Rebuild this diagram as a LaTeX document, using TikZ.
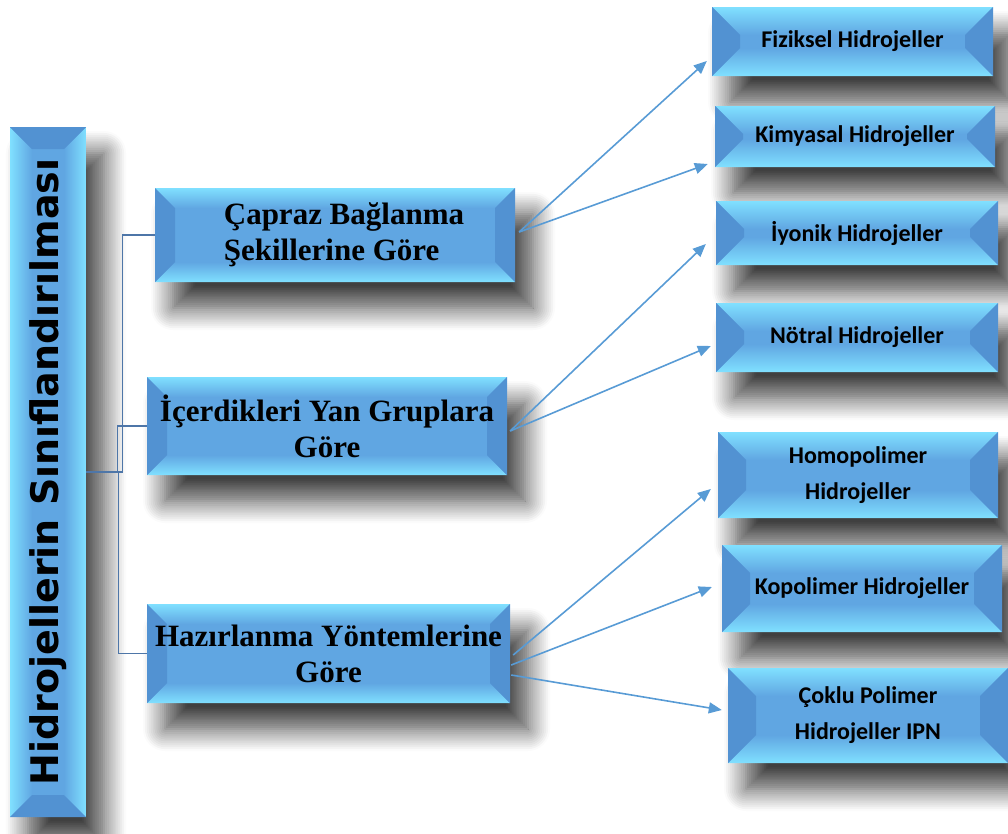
\documentclass[tikz,border=0pt]{standalone}
\usepackage{fontspec}
\usepackage{graphicx}
\usepackage{tikz}
\usetikzlibrary{arrows.meta,positioning,calc,shadows.blur}
\newfontfamily\rootfont{DejaVu Sans}
\newfontfamily\groupfont{Liberation Serif}
\newfontfamily\leaffont{Carlito}
\definecolor{boxface}{RGB}{96,166,226}
\definecolor{boxside}{RGB}{82,146,210}
\definecolor{boxedge}{RGB}{128,224,255}
\definecolor{treecol}{RGB}{78,118,168}
\definecolor{linkcol}{RGB}{88,155,213}
\tikzset{
  bevelh/.style={fill=boxface,path picture={
      \coordinate (pnw) at (path picture bounding box.north west);
      \coordinate (pne) at (path picture bounding box.north east);
      \coordinate (psw) at (path picture bounding box.south west);
      \coordinate (pse) at (path picture bounding box.south east);
      \shade[top color=boxedge,bottom color=boxface] (pnw) -- (pne)
        -- ([shift={(-#1pt,-#1pt)}]pne) -- ([shift={(#1pt,-#1pt)}]pnw) -- cycle;
      \shade[top color=boxface,bottom color=boxedge] (psw) -- (pse)
        -- ([shift={(-#1pt,#1pt)}]pse) -- ([shift={(#1pt,#1pt)}]psw) -- cycle;
      \fill[boxside] (pnw) -- ([shift={(#1pt,-#1pt)}]pnw)
        -- ([shift={(#1pt,#1pt)}]psw) -- (psw) -- cycle;
      \fill[boxside] (pne) -- ([shift={(-#1pt,-#1pt)}]pne)
        -- ([shift={(-#1pt,#1pt)}]pse) -- (pse) -- cycle;
    }},
  bevelv/.style={fill=boxface,path picture={
      \coordinate (pnw) at (path picture bounding box.north west);
      \coordinate (pne) at (path picture bounding box.north east);
      \coordinate (psw) at (path picture bounding box.south west);
      \coordinate (pse) at (path picture bounding box.south east);
      \shade[left color=boxedge,right color=boxface] (pnw) -- (psw)
        -- ([shift={(#1pt,#1pt)}]psw) -- ([shift={(#1pt,-#1pt)}]pnw) -- cycle;
      \shade[left color=boxface,right color=boxedge] (pne) -- (pse)
        -- ([shift={(-#1pt,#1pt)}]pse) -- ([shift={(-#1pt,-#1pt)}]pne) -- cycle;
      \fill[boxside] (pnw) -- (pne) -- ([shift={(-#1pt,-#1pt)}]pne)
        -- ([shift={(#1pt,-#1pt)}]pnw) -- cycle;
      \fill[boxside] (psw) -- (pse) -- ([shift={(-#1pt,#1pt)}]pse)
        -- ([shift={(#1pt,#1pt)}]psw) -- cycle;
    }},
  boxshadow/.style={blur shadow={shadow xshift=18pt,shadow yshift=-26pt,
      shadow blur radius=22pt,shadow blur steps=12,shadow opacity=75}},
  rootbox/.style={bevelv=22,boxshadow,inner sep=0pt,minimum width=76pt,
      minimum height=690pt,font=\rootfont\bfseries\fontsize{38}{44}\selectfont},
  groupbox/.style={bevelh=20,boxshadow,inner sep=0pt,align=center,
      font=\groupfont\bfseries\fontsize{31}{36}\selectfont},
  leafbox/.style={bevelh=28,boxshadow,inner sep=0pt,align=center,
      font=\leaffont\bfseries\fontsize{24}{36}\selectfont},
  tree/.style={draw=treecol,line width=1.2pt},
  link/.style={-{Triangle[length=13pt,width=11pt]},draw=linkcol,line width=1.6pt},
}
\begin{document}
\begin{tikzpicture}[x=1pt,y=-1pt]
  \useasboundingbox (0,0) rectangle (1008,833);
  % root
  \node[rootbox] (root) at (48,472) {\rotatebox{90}{Hidrojellerin Sınıflandırılması}};
  % groups
  \node[groupbox,minimum width=360pt,minimum height=94pt,align=left] (capraz) at (335,235)
    {\hspace*{18pt}Çapraz Bağlanma\\\hspace*{18pt}Şekillerine Göre};
  \node[groupbox,minimum width=360pt,minimum height=98pt] (yan) at (327,426)
    {İçerdikleri Yan Gruplara\\Göre};
  \node[groupbox,minimum width=363pt,minimum height=99pt] (hazir) at (328.5,653.5)
    {Hazırlanma Yöntemlerine\\Göre};
  % leaves
  \node[leafbox,minimum width=281pt,minimum height=69pt] (fiziksel) at (852.5,41.5) {Fiziksel Hidrojeller};
  \node[leafbox,minimum width=280pt,minimum height=61pt] (kimyasal) at (855,136.5) {Kimyasal Hidrojeller};
  \node[leafbox,minimum width=282pt,minimum height=64pt] (iyonik) at (857,233) {İyonik Hidrojeller};
  \node[leafbox,minimum width=282pt,minimum height=69pt] (notral) at (857,337.5) {Nötral Hidrojeller};
  \node[leafbox,minimum width=280pt,minimum height=86pt] (homo) at (858,475) {Homopolimer\\Hidrojeller};
  \node[leafbox,minimum width=280pt,minimum height=87pt] (kopo) at (862,588.5) {Kopolimer Hidrojeller};
  \node[leafbox,minimum width=280pt,minimum height=95pt] (coklu) at (868,715.5) {Çoklu Polimer\\Hidrojeller IPN};
  % tree lines
  \draw[tree] (root.east) -- ++(36,0) |- (capraz.west);
  \draw[tree] (root.east) -- ++(31,0) |- (yan.west);
  \draw[tree] (root.east) -- ++(32,0) |- (hazir.west);
  % arrows
  \foreach \src/\sx/\sy/\dst/\dx/\dy in {capraz/4/3/fiziksel/-5/-19.5,
      capraz/4/3/kimyasal/-7/-27.5, yan/3/-5/iyonik/-10/-11, yan/3/-5/notral/-5/-8.5,
      hazir/3/-1.5/homo/-7/-14, hazir/1/-11.5/kopo/-10/1.5, hazir/1/-21.5/coklu/-6/5.5}
    \draw[link] ([shift={(\sx pt,\sy pt)}]\src.east) -- ([shift={(\dx pt,\dy pt)}]\dst.west);
\end{tikzpicture}
\end{document}
